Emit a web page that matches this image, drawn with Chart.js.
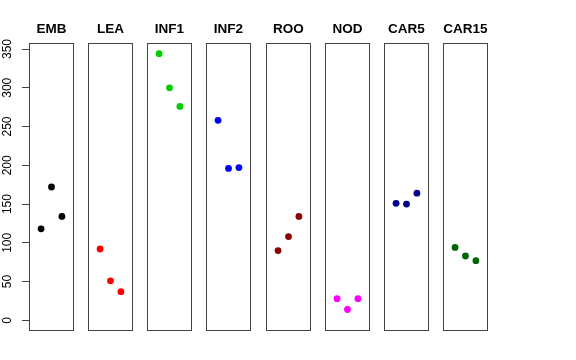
<!DOCTYPE html>
<html>
<head>
<meta charset="utf-8">
<script src="https://cdn.jsdelivr.net/npm/chart.js@4"></script>
<style>
  html, body { margin: 0; padding: 0; background: #fff; }
  #wrap { position: relative; width: 576px; height: 360px; overflow: hidden; }
  #wrap canvas { position: absolute; top: 0; }
</style>
</head>
<body>
<div id="wrap"></div>
<script>
// --- data ---
const panelNames = ['EMB', 'LEA', 'INF1', 'INF2', 'ROO', 'NOD', 'CAR5', 'CAR15'];
const replicates = [1, 2, 3];
const embValues = [118, 172, 134];
const leaValues = [92, 51, 37];
const inf1Values = [344, 300, 276];
const inf2Values = [258, 196, 197];
const rooValues = [90, 108, 134];
const nodValues = [28, 14, 28];
const car5Values = [151, 150, 164];
const car15Values = [94, 83, 77];
const yTickValues = [0, 50, 100, 150, 200, 250, 300, 350];

const panelValues = [embValues, leaValues, inf1Values, inf2Values, rooValues, nodValues, car5Values, car15Values];
const panelColors = ['#000000', '#ff0000', '#00cd00', '#0000ff', '#8b0000', '#ff00ff', '#00008b', '#006400'];

// shared y range, like ylim = c(0, max) with R's 4% extension
const yMax = Math.max(...panelValues.flat());
const yPad = yMax * 0.04;

Chart.defaults.font.family = "'Liberation Sans', Arial, Helvetica, sans-serif";
Chart.defaults.color = '#000';

// draws the box round each panel
const boxPlugin = {
    id: 'panelBox',
    afterDraw(chart) {
        const a = chart.chartArea;
        const ctx = chart.ctx;
        ctx.save();
        ctx.strokeStyle = '#444';
        ctx.lineWidth = 1;
        ctx.strokeRect(a.left + 0.5, a.top + 0.5, a.right - a.left - 1, a.bottom - a.top - 1);
        ctx.restore();
    }
};

const firstLeft = 29;
const pitch = 59.14;
const panelWidth = 45;
const yAxisWidth = 29;
const wrap = document.getElementById('wrap');

panelNames.forEach((name, i) => {
    const isFirst = i === 0;
    const left = Math.round(firstLeft + i * pitch);
    const canvas = document.createElement('canvas');
    const cw = isFirst ? yAxisWidth + panelWidth + 1 : panelWidth + 2;
    canvas.width = cw;
    canvas.height = 360;
    canvas.style.width = cw + 'px';
    canvas.style.height = '360px';
    canvas.style.left = (isFirst ? 0 : left - 1) + 'px';
    wrap.appendChild(canvas);

    new Chart(canvas.getContext('2d'), {
        type: 'scatter',
        data: {
            datasets: [{
                data: replicates.map((r, j) => ({ x: r, y: panelValues[i][j] })),
                backgroundColor: panelColors[i],
                pointRadius: 3.4,
                pointHoverRadius: 3.4,
                pointBorderWidth: 0
            }]
        },
        options: {
            responsive: false,
            animation: false,
            events: [],
            layout: {
                autoPadding: false,
                padding: { left: isFirst ? 0 : 1, right: 1, top: 0, bottom: 29 }
            },
            plugins: {
                legend: { display: false },
                tooltip: { enabled: false },
                title: {
                    display: true,
                    text: name,
                    fullSize: false,
                    font: { size: 13.5, weight: 'bold' },
                    padding: { top: 21, bottom: 5.8 }
                }
            },
            scales: {
                x: {
                    type: 'linear',
                    display: false,
                    min: 0 - 0.16,
                    max: 4 + 0.16
                },
                y: {
                    type: 'linear',
                    display: isFirst,
                    min: -yPad,
                    max: yMax + yPad,
                    afterBuildTicks: (scale) => {
                        scale.ticks = yTickValues.map(v => ({ value: v }));
                    },
                    afterFit: (scale) => {
                        // only the first panel carries the axis
                        if (isFirst) scale.width = yAxisWidth;
                    },
                    border: { display: false },
                    grid: {
                        drawOnChartArea: false,
                        drawTicks: true,
                        tickLength: 7,
                        color: '#444'
                    },
                    ticks: {
                        minRotation: 90,
                        maxRotation: 90,
                        crossAlign: 'center',
                        padding: 4,
                        font: { size: 12 },
                        color: '#000'
                    }
                }
            }
        },
        plugins: [boxPlugin]
    });
});
</script>
</body>
</html>
